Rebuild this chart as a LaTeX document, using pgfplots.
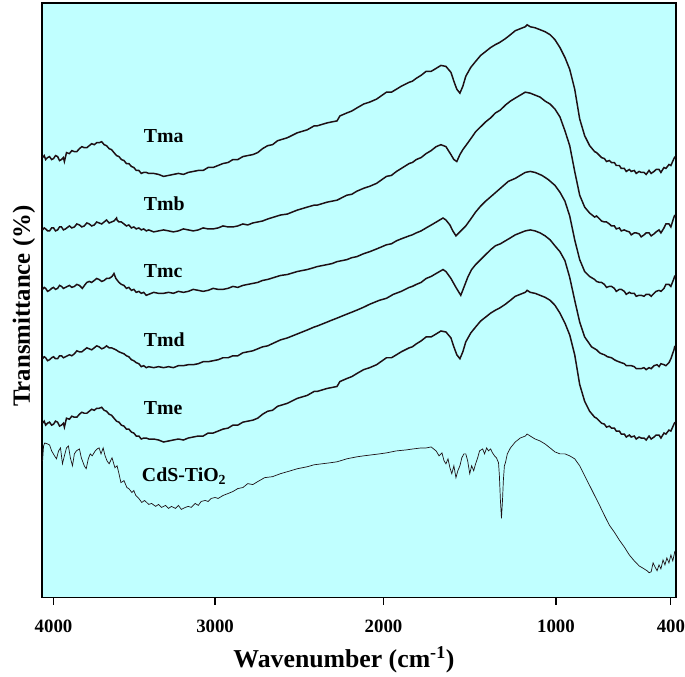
\documentclass[border=0pt]{standalone}
\usepackage{pgfplots}
\pgfplotsset{compat=1.18}
\usepackage{fontspec}
\setmainfont{Liberation Serif}
\definecolor{bgcyan}{RGB}{192,255,255}
\definecolor{crv}{RGB}{30,15,20}
\begin{document}
\begin{tikzpicture}
\begin{axis}[
  scale only axis, width=640bp, height=600bp,
  xmin=4074, xmax=374, ymin=0, ymax=600,
  x coord trafo/.code={\pgfmathparse{(#1>=3000)*(217-(#1-3000)*0.163)+(#1<3000)*(#1>=2000)*(387-(#1-2000)*0.17001)+(#1<2000)*(#1>=1000)*(561-(#1-1000)*0.174)+(#1<1000)*(677-(#1-400)*0.19335)}},
  xtick={4000,3000,2000,1000,400},
  xticklabels={4000,3000,2000,1000,400},
  ytick=\empty,
  xtick pos=left, tick align=outside,
  major tick length=7bp,
  tick style={black, line width=1.2bp},
  axis line style={black, line width=1.8bp},
  axis background/.style={fill=bgcyan, draw=black, line width=1.8bp},
  /pgf/number format/assume math mode=true,
  xticklabel style={font=\fontsize{19bp}{19bp}\selectfont\bfseries, inner sep=0pt, anchor=north, yshift=-15bp},
  xlabel={Wavenumber (cm\textsuperscript{-1})},
  xlabel style={font=\fontsize{26bp}{26bp}\selectfont\bfseries, at={(axis description cs:0.4766,0)}, anchor=center, yshift=-63bp},
  ylabel={Transmittance (\%)},
  ylabel style={font=\fontsize{25bp}{25bp}\selectfont\bfseries, at={(axis description cs:-0.028,0.49)}, anchor=center},
]
% Tma
\addplot[crv, line width=1.5bp] coordinates {
(4068,444)(4058,446)(4049,442)(4037,444)(4025,445)(4012,442)(4000,443)(3988,446)(3975,445)(3963,441)(3951,442)(3939,444)(3933,440)(3920,449)(3902,448)(3887,451)(3871,450)(3856,450)(3840,453)(3825,455)(3810,454)(3794,454)(3779,456)(3764,458)(3748,457)(3733,459)(3718,459)(3702,460)(3687,457)(3672,456)(3656,453)(3641,452)(3626,449)(3610,446)(3595,445)(3580,442)(3564,441)(3549,438)(3534,438)(3518,435)(3503,434)(3488,431)(3472,431)(3457,428)(3442,429)(3426,429)(3411,428)(3380,428)(3350,427)(3319,425)(3288,426)(3258,427)(3227,428)(3196,427)(3166,429)(3135,430)(3104,431)(3074,431)(3043,434)(3012,434)(2982,436)(2953,438)(2923,439)(2894,442)(2865,442)(2835,445)(2806,446)(2776,447)(2747,449)(2718,453)(2688,456)(2659,457)(2629,461)(2571,464)(2512,469)(2453,472)(2412,476)(2394,476)(2335,479)(2306,480)(2276,481)(2259,486)(2218,489)(2188,491)(2159,494)(2118,498)(2082,500)(2041,503)(1983,510)(1954,510)(1925,513)(1897,516)(1851,520)(1833,521)(1810,524)(1782,527)(1753,531)(1724,531)(1695,534)(1667,537)(1638,536)(1609,530)(1592,521)(1575,513)(1557,509)(1540,516)(1523,526)(1494,535)(1466,541)(1437,547)(1408,551)(1379,555)(1351,558)(1328,560)(1293,564)(1264,568)(1236,572)(1207,574)(1178,576)(1167,578)(1149,576)(1121,575)(1092,573)(1063,571)(1034,568)(1006,563)(979,555)(953,545)(928,533)(902,513)(876,483)(850,466)(824,456)(798,450)(788,449)(772,446)(762,444)(747,443)(736,440)(721,441)(710,439)(695,439)(685,436)(669,436)(659,433)(643,433)(633,430)(617,432)(607,430)(591,431)(581,428)(566,430)(555,429)(540,429)(529,427)(514,431)(503,428)(488,430)(477,432)(462,432)(452,429)(436,434)(426,433)(410,437)(400,436)(384,443)(379,445)
};
% Tmb
\addplot[crv, line width=1.5bp] coordinates {
(4068,371)(4058,373)(4049,372)(4037,370)(4025,370)(4012,373)(4000,373)(3988,370)(3975,371)(3963,374)(3951,374)(3939,371)(3926,372)(3902,375)(3887,373)(3871,374)(3856,377)(3840,376)(3825,374)(3810,375)(3794,378)(3779,377)(3764,375)(3748,376)(3733,379)(3718,378)(3702,377)(3687,379)(3672,381)(3656,378)(3641,379)(3626,380)(3610,383)(3607,381)(3595,379)(3580,379)(3564,377)(3549,375)(3534,376)(3518,373)(3503,374)(3488,372)(3472,373)(3457,371)(3442,372)(3426,370)(3411,371)(3380,369)(3350,370)(3319,371)(3288,370)(3258,369)(3227,370)(3196,372)(3166,371)(3135,370)(3104,371)(3074,373)(3043,372)(3012,372)(2982,373)(2953,375)(2923,374)(2894,374)(2865,375)(2835,377)(2806,376)(2776,378)(2747,379)(2718,380)(2688,382)(2612,386)(2571,387)(2512,391)(2453,394)(2412,396)(2394,396)(2335,399)(2306,400)(2276,401)(2218,406)(2188,407)(2159,410)(2118,413)(2082,415)(2041,418)(1983,425)(1954,426)(1925,430)(1897,433)(1851,438)(1833,439)(1810,442)(1782,444)(1753,448)(1724,451)(1695,455)(1667,457)(1638,455)(1609,447)(1592,442)(1575,440)(1557,447)(1540,452)(1523,456)(1494,463)(1466,470)(1437,475)(1408,480)(1379,484)(1351,489)(1322,492)(1293,497)(1264,501)(1236,504)(1207,507)(1178,510)(1149,509)(1121,507)(1092,505)(1063,501)(1034,498)(1006,493)(979,485)(953,471)(928,456)(902,430)(876,406)(850,394)(824,388)(798,384)(788,385)(772,382)(762,380)(747,379)(736,379)(721,377)(710,375)(695,375)(685,372)(669,373)(659,370)(643,371)(633,370)(617,369)(607,366)(591,368)(581,368)(566,367)(555,364)(540,366)(529,368)(514,368)(503,365)(488,367)(477,369)(462,371)(452,368)(436,373)(426,377)(410,377)(400,374)(384,384)(379,386)
};
% Tmc
\addplot[crv, line width=1.5bp] coordinates {
(4068,311)(4058,313)(4049,312)(4037,309)(4025,310)(4012,312)(4000,313)(3988,311)(3975,312)(3963,315)(3951,314)(3939,312)(3926,313)(3902,315)(3887,313)(3871,314)(3856,316)(3840,315)(3822,312)(3804,316)(3794,318)(3779,319)(3764,318)(3748,320)(3733,322)(3718,321)(3702,319)(3687,320)(3672,322)(3656,322)(3638,324)(3626,327)(3614,322)(3595,318)(3580,316)(3564,315)(3549,312)(3534,313)(3518,310)(3503,311)(3488,308)(3472,309)(3457,307)(3442,308)(3426,305)(3411,306)(3380,308)(3350,307)(3319,307)(3288,308)(3258,307)(3227,309)(3196,308)(3166,309)(3135,311)(3104,310)(3074,309)(3043,310)(3012,312)(2982,311)(2953,311)(2923,312)(2894,314)(2865,313)(2835,315)(2806,316)(2776,317)(2747,318)(2718,320)(2688,321)(2612,325)(2571,326)(2512,329)(2453,331)(2412,333)(2394,334)(2335,336)(2306,337)(2276,339)(2218,341)(2188,343)(2159,344)(2118,347)(2082,349)(2024,353)(1983,356)(1954,357)(1925,360)(1897,362)(1851,365)(1833,366)(1810,368)(1782,370)(1753,373)(1713,377)(1684,380)(1655,383)(1638,381)(1615,376)(1598,370)(1580,365)(1563,368)(1540,372)(1523,375)(1494,382)(1466,389)(1437,395)(1408,400)(1368,406)(1322,413)(1276,420)(1236,423)(1207,426)(1178,429)(1149,430)(1121,429)(1081,426)(1046,422)(1006,416)(979,409)(953,400)(928,385)(902,361)(876,341)(850,329)(824,324)(798,321)(788,319)(772,318)(762,318)(747,316)(736,313)(721,314)(710,314)(695,312)(685,309)(669,311)(659,311)(643,309)(633,306)(617,308)(607,307)(591,307)(581,304)(566,305)(555,305)(540,304)(529,306)(514,306)(503,304)(488,307)(477,309)(462,310)(452,309)(436,312)(426,316)(410,316)(400,314)(384,322)(379,325)
};
% Tmd
\addplot[crv, line width=1.5bp] coordinates {
(4068,241)(4058,243)(4049,242)(4037,239)(4025,240)(4012,242)(4000,243)(3988,241)(3975,241)(3963,244)(3951,244)(3939,242)(3926,243)(3902,245)(3887,244)(3871,246)(3856,249)(3840,248)(3825,248)(3810,250)(3794,252)(3779,251)(3764,250)(3748,252)(3733,254)(3718,253)(3702,251)(3687,252)(3672,254)(3656,252)(3641,252)(3614,250)(3595,248)(3580,247)(3564,246)(3549,244)(3534,243)(3518,240)(3503,239)(3488,237)(3472,236)(3457,233)(3442,234)(3426,232)(3411,233)(3380,232)(3350,233)(3319,232)(3288,233)(3258,232)(3227,234)(3196,234)(3166,235)(3135,235)(3104,236)(3074,238)(3043,238)(3012,239)(2982,240)(2953,242)(2923,242)(2894,244)(2865,244)(2835,247)(2806,248)(2776,249)(2747,251)(2718,253)(2688,254)(2612,260)(2571,262)(2512,266)(2453,270)(2412,273)(2394,274)(2335,278)(2306,280)(2276,282)(2218,286)(2188,288)(2159,290)(2118,293)(2082,296)(2024,300)(1983,302)(1943,306)(1897,309)(1851,313)(1833,314)(1810,316)(1782,318)(1753,322)(1724,324)(1695,327)(1655,331)(1638,329)(1609,322)(1580,313)(1552,305)(1534,313)(1512,323)(1489,331)(1466,336)(1437,341)(1408,346)(1379,351)(1351,355)(1322,357)(1293,360)(1264,363)(1236,366)(1207,368)(1178,370)(1149,371)(1121,370)(1092,368)(1063,365)(1034,361)(1006,355)(979,349)(953,340)(928,323)(902,300)(876,278)(850,263)(814,253)(788,250)(772,247)(762,246)(747,245)(731,243)(710,242)(695,240)(685,239)(659,237)(643,236)(633,234)(607,234)(591,233)(581,231)(555,231)(540,232)(529,230)(514,232)(503,231)(488,234)(472,235)(462,233)(452,236)(436,235)(426,234)(410,237)(400,241)(384,250)(379,254)
};
% Tme
\addplot[crv, line width=1.5bp] coordinates {
(4068,176)(4058,178)(4049,174)(4037,176)(4025,177)(4012,174)(4000,175)(3988,178)(3975,177)(3963,173)(3951,174)(3939,176)(3933,172)(3920,181)(3902,180)(3887,183)(3871,182)(3856,182)(3840,185)(3825,187)(3810,186)(3794,186)(3779,188)(3764,190)(3748,189)(3733,191)(3718,191)(3702,192)(3687,189)(3672,188)(3656,185)(3641,184)(3626,181)(3610,178)(3595,177)(3580,174)(3564,173)(3549,170)(3534,170)(3518,167)(3503,166)(3488,163)(3472,163)(3457,160)(3442,161)(3426,161)(3411,160)(3380,160)(3350,159)(3319,157)(3288,158)(3258,159)(3227,160)(3196,159)(3166,161)(3135,162)(3104,163)(3074,163)(3043,166)(3012,166)(2982,168)(2953,170)(2923,171)(2894,174)(2865,174)(2835,177)(2806,178)(2776,179)(2747,181)(2718,185)(2688,188)(2659,189)(2629,193)(2571,196)(2512,201)(2453,204)(2412,208)(2394,208)(2335,211)(2306,212)(2276,213)(2259,218)(2218,221)(2188,223)(2159,226)(2118,230)(2082,232)(2041,235)(1983,242)(1954,242)(1925,245)(1897,248)(1851,252)(1833,253)(1810,256)(1782,259)(1753,263)(1724,263)(1695,266)(1667,269)(1638,268)(1609,262)(1592,253)(1575,245)(1557,241)(1540,248)(1523,258)(1494,267)(1466,273)(1437,279)(1408,283)(1379,287)(1351,290)(1328,292)(1293,296)(1264,300)(1236,304)(1207,306)(1178,308)(1167,310)(1149,308)(1121,307)(1092,305)(1063,303)(1034,300)(1006,295)(979,287)(953,277)(928,265)(902,245)(876,215)(850,198)(824,188)(798,182)(788,181)(772,178)(762,176)(747,175)(736,172)(721,173)(710,171)(695,171)(685,168)(669,168)(659,165)(643,165)(633,162)(617,164)(607,162)(591,163)(581,160)(566,162)(555,161)(540,161)(529,159)(514,163)(503,160)(488,162)(477,164)(462,164)(452,161)(436,166)(426,165)(410,169)(400,168)(384,175)(379,177)
};
% CdS-TiO2
\addplot[crv, line width=0.7bp] coordinates {
(4068,138)(4062,153)(4055,156)(4037,155)(4025,154)(4012,148)(3994,143)(3982,140)(3969,148)(3957,151)(3945,135)(3933,143)(3920,151)(3908,153)(3896,141)(3883,133)(3871,145)(3859,148)(3840,150)(3828,141)(3810,133)(3798,130)(3785,140)(3773,145)(3761,143)(3742,148)(3730,150)(3718,151)(3706,145)(3693,151)(3681,143)(3669,138)(3656,135)(3638,141)(3620,131)(3607,133)(3595,125)(3583,116)(3564,118)(3546,111)(3534,110)(3515,106)(3503,108)(3491,103)(3472,100)(3454,96)(3436,98)(3411,94)(3393,95)(3368,92)(3350,94)(3331,91)(3307,93)(3288,90)(3270,92)(3245,90)(3227,93)(3209,89)(3184,91)(3166,92)(3147,91)(3123,95)(3104,93)(3086,97)(3061,98)(3043,97)(3025,100)(3000,101)(2982,100)(2953,103)(2923,105)(2894,107)(2865,110)(2835,111)(2806,115)(2776,114)(2747,117)(2706,121)(2659,122)(2612,125)(2571,127)(2512,130)(2453,132)(2412,134)(2365,135)(2318,136)(2276,137)(2218,140)(2159,142)(2118,143)(2071,144)(2024,145)(1983,146)(1925,148)(1868,149)(1828,150)(1782,151)(1753,151)(1724,152)(1695,148)(1678,143)(1661,146)(1649,138)(1638,135)(1626,140)(1615,131)(1604,125)(1592,133)(1580,121)(1569,128)(1557,133)(1546,141)(1534,145)(1523,145)(1512,138)(1500,125)(1489,133)(1477,128)(1466,135)(1454,141)(1443,148)(1425,150)(1414,145)(1402,151)(1391,148)(1379,150)(1368,146)(1356,143)(1345,141)(1333,136)(1328,123)(1322,98)(1316,80)(1310,98)(1305,118)(1299,133)(1293,136)(1282,145)(1264,151)(1236,157)(1207,161)(1178,163)(1167,165)(1149,163)(1121,160)(1092,158)(1063,155)(1034,151)(1006,147)(979,145)(953,145)(928,143)(902,140)(876,133)(850,123)(824,113)(798,103)(772,93)(747,83)(721,73)(695,66)(669,58)(643,51)(617,43)(591,37)(566,32)(540,29)(524,27)(514,25)(503,26)(493,35)(483,31)(472,27)(462,33)(452,29)(441,38)(431,33)(421,40)(410,35)(400,43)(390,37)(379,47)
};
\node[anchor=west, font=\fontsize{20bp}{20bp}\selectfont\bfseries, inner sep=0pt] at (axis cs:3442,466) {Tma};
\node[anchor=west, font=\fontsize{20bp}{20bp}\selectfont\bfseries, inner sep=0pt] at (axis cs:3442,397) {Tmb};
\node[anchor=west, font=\fontsize{20bp}{20bp}\selectfont\bfseries, inner sep=0pt] at (axis cs:3442,329) {Tmc};
\node[anchor=west, font=\fontsize{20bp}{20bp}\selectfont\bfseries, inner sep=0pt] at (axis cs:3442,260) {Tmd};
\node[anchor=west, font=\fontsize{20bp}{20bp}\selectfont\bfseries, inner sep=0pt] at (axis cs:3442,191) {Tme};
\node[anchor=west, font=\fontsize{20bp}{20bp}\selectfont\bfseries, inner sep=0pt] at (axis cs:3454,123) {CdS-TiO\textsubscript{2}};
\end{axis}
\path ([shift={(-42bp,-74bp)}]current axis.south west) rectangle ([shift={(3bp,3bp)}]current axis.north east);
\end{tikzpicture}
\end{document}
